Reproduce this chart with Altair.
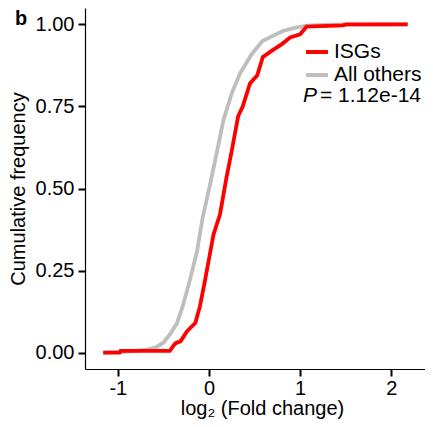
import altair as alt
import pandas as pd

# Reference read-offs
others_x = [-1.16, -0.87, -0.70, -0.59, -0.50, -0.43, -0.35, -0.29, -0.21, -0.13, -0.07, 0.01,
            0.09, 0.16, 0.25, 0.34, 0.47, 0.59, 0.81, 0.95, 1.07, 1.30, 2.18]
others_y = [0.0, 0.003, 0.008, 0.015, 0.03, 0.055, 0.09, 0.14, 0.22, 0.31, 0.41, 0.51,
            0.615, 0.71, 0.79, 0.85, 0.91, 0.95, 0.98, 0.99, 0.996, 0.999, 1.0]

isg_x = [-1.16, -0.98, -0.97, -0.43, -0.37, -0.31, -0.24, -0.15, -0.10, -0.05, -0.01, 0.05,
         0.12, 0.19, 0.25, 0.32, 0.37, 0.45, 0.53, 0.59, 0.69, 0.80, 0.89, 1.00, 1.07, 1.47, 1.50, 2.18]
isg_y = [0.0, 0.0, 0.005, 0.005, 0.028, 0.035, 0.065, 0.09, 0.14, 0.21, 0.27, 0.36,
         0.42, 0.53, 0.615, 0.72, 0.75, 0.82, 0.845, 0.90, 0.92, 0.94, 0.96, 0.97, 0.993, 0.997, 1.0, 1.0]

groups = ["ISGs", "All others"]
colors = ["#FF0000", "#BEBEBE"]
x_ticks = [-1, 0, 1, 2]
y_ticks = [0, 0.25, 0.5, 0.75, 1.0]

df = pd.concat([
    pd.DataFrame({"fc": others_x, "cf": others_y, "group": "All others", "ord": 0, "i": range(len(others_x))}),
    pd.DataFrame({"fc": isg_x, "cf": isg_y, "group": "ISGs", "ord": 1, "i": range(len(isg_x))}),
])

FONT = "Liberation Sans"

lines = alt.Chart(df).mark_line(strokeWidth=3.8, clip=True).encode(
    x=alt.X("fc:Q", scale=alt.Scale(domain=[-1.36, 2.37], nice=False, zero=False),
            axis=alt.Axis(values=x_ticks, labelExpr="'' + datum.value", title="log₂ (Fold change)",
                          labelPadding=2, titlePadding=0, titleX=177, titleFontSize=20)),
    y=alt.Y("cf:Q", scale=alt.Scale(domain=[-0.05, 1.05], nice=False, zero=False),
            axis=alt.Axis(values=y_ticks, format=".2f", title="Cumulative frequency",
                          labelPadding=4, titlePadding=7)),
    color=alt.Color("group:N", scale=alt.Scale(domain=groups, range=colors),
                    legend=alt.Legend(title=None, orient="none", legendX=219, legendY=31,
                                      symbolType="stroke", symbolSize=484, symbolStrokeWidth=4,
                                      labelFontSize=21, labelFont=FONT, labelColor="black",
                                      rowPadding=-9, labelOffset=4)),
    detail="ord:N",
    order="i:Q",
)

p_df = pd.DataFrame({"t": ["P"]})
rest_df = pd.DataFrame({"t": ["= 1.12e-14"]})
b_df = pd.DataFrame({"t": ["b"]})

p_text = alt.Chart(p_df).mark_text(font=FONT, fontSize=21, fontStyle="italic", align="left",
                                   baseline="alphabetic", color="black").encode(
    text="t:N", x=alt.value(218), y=alt.value(94))
rest_text = alt.Chart(rest_df).mark_text(font=FONT, fontSize=21, align="left",
                                         baseline="alphabetic", color="black").encode(
    text="t:N", x=alt.value(235), y=alt.value(94))
b_text = alt.Chart(b_df).mark_text(font=FONT, fontSize=20, fontWeight="bold", align="left",
                                   baseline="alphabetic", color="black").encode(
    text="t:N", x=alt.value(-70), y=alt.value(17))

chart = alt.layer(lines, p_text, rest_text, b_text).properties(
    width=340, height=361,
    autosize=alt.AutoSizeParams(type="none"),
    padding={"left": 77, "top": 0, "right": 0, "bottom": 50},
).configure_view(stroke=None).configure_axis(
    grid=False, domainColor="black", domainWidth=1.2, tickColor="black", tickWidth=2,
    tickSize=7, labelColor="black", labelFont=FONT, labelFontSize=20,
    titleFont=FONT, titleFontSize=20, titleFontWeight="normal", titleColor="black",
)

chart.save("out.html", embed_options={"renderer": "svg", "actions": False})
